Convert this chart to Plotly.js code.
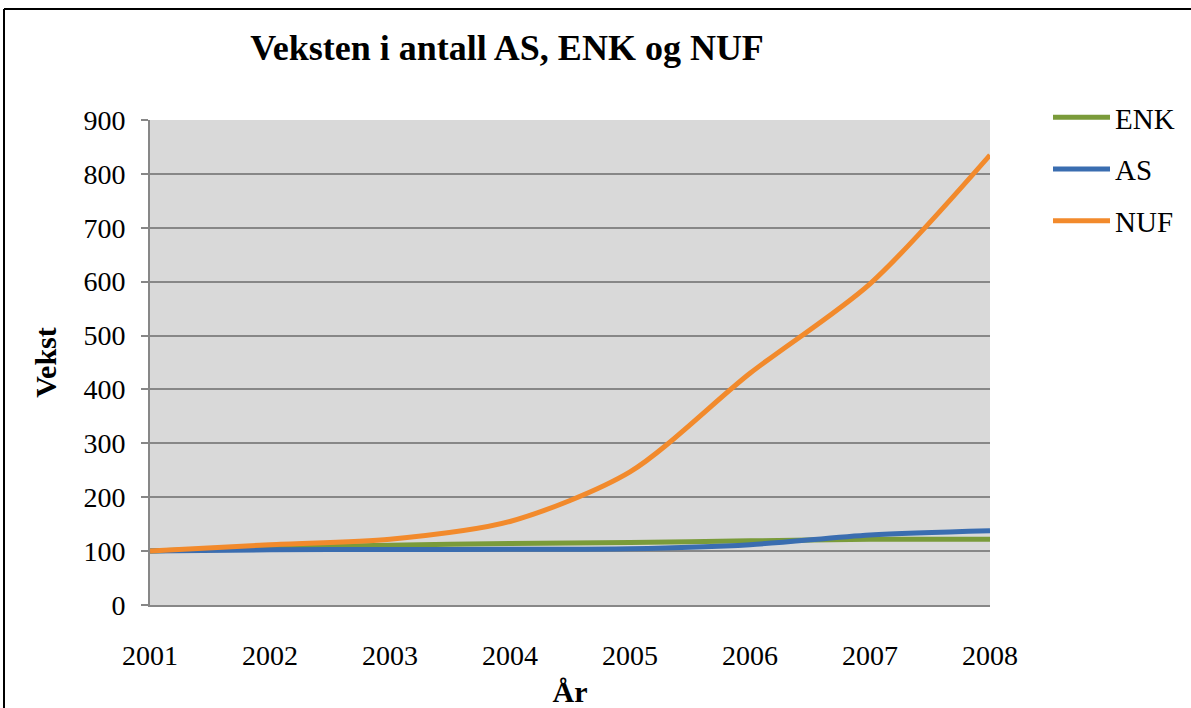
<!DOCTYPE html>
<html>
<head>
<meta charset="utf-8">
<script src="https://cdn.plot.ly/plotly-3.0.1.min.js"></script>
<style>html,body{margin:0;padding:0;background:#fff;}#chart{width:1191px;height:708px;}</style>
</head>
<body>
<div id="chart"></div>
<script>
const years = [2001, 2002, 2003, 2004, 2005, 2006, 2007, 2008];
const enk = [100, 107, 111, 114, 116, 119, 122, 122];
const as = [100, 102.5, 103, 103.5, 104.5, 112, 130, 138];
const nuf = [100, 112, 122, 155, 247, 430, 596, 835];
const seriesNames = ['ENK', 'AS', 'NUF'];
const seriesColors = ['#7A9B3A', '#3A6DB0', '#F28A2C'];
const yTicks = [0, 100, 200, 300, 400, 500, 600, 700, 800, 900];

const serif = 'Liberation Serif, Times New Roman, serif';
const data = [enk, as, nuf].map((v, i) => ({
  x: years, y: v, name: seriesNames[i], legendgroup: 'g' + i, type: 'scatter', mode: 'lines',
  line: {color: seriesColors[i], width: 5, shape: 'spline', smoothing: 0.8}
}));

const W = 840, H = 485;
const layout = {
  width: 1191, height: 708,
  margin: {l: 150, r: 201, t: 120, b: 103, autoexpand: false},
  paper_bgcolor: '#ffffff', plot_bgcolor: '#D9D9D9',
  font: {family: serif, color: '#000', size: 28},
  title: {text: '<b>Veksten i antall AS, ENK og NUF</b>', font: {family: serif, size: 36, color: '#000'},
          x: 507/1191, xanchor: 'center', y: 1 - 47/708, yanchor: 'middle'},
  showlegend: true,
  legend: {x: 1 + (1048-990)/W, xanchor: 'left', y: 1 + 28/H, yanchor: 'top',
           font: {family: serif, size: 29, color: '#000'}, tracegroupgap: 11,
           itemwidth: 57, bgcolor: 'rgba(0,0,0,0)'},
  xaxis: {type: 'linear', range: [2001, 2008], tickvals: years, ticktext: years.map(String),
          showgrid: false, zeroline: false, showline: true, linecolor: '#878787', linewidth: 2,
          ticks: '', ticklabelstandoff: 24, tickfont: {family: serif, size: 28, color: '#000'},
          title: {text: '<b>År</b>', font: {family: serif, size: 30, color: '#000'}, standoff: 11}},
  yaxis: {range: [0, 900], tickvals: yTicks, showgrid: true, gridcolor: '#878787', gridwidth: 2,
          zeroline: false, showline: true, linecolor: '#878787', linewidth: 2,
          ticks: 'outside', ticklen: 7, tickcolor: '#878787', tickwidth: 2, ticklabelstandoff: 10,
          tickfont: {family: serif, size: 28, color: '#000'},
          title: {text: '<b>Vekst</b>', font: {family: serif, size: 30, color: '#000'}, standoff: 18}},
  shapes: [
    {type: 'line', xref: 'paper', yref: 'paper', x0: (4-150)/W, x1: (1195-150)/W, y0: (605-9)/H, y1: (605-9)/H,
     line: {color: '#000', width: 2}},
    {type: 'line', xref: 'paper', yref: 'paper', x0: (4-150)/W, x1: (4-150)/W, y0: (605-9)/H, y1: (605-712)/H,
     line: {color: '#000', width: 2}}
  ]
};
Plotly.newPlot('chart', data, layout, {displayModeBar: false, staticPlot: true});
</script>
</body>
</html>
